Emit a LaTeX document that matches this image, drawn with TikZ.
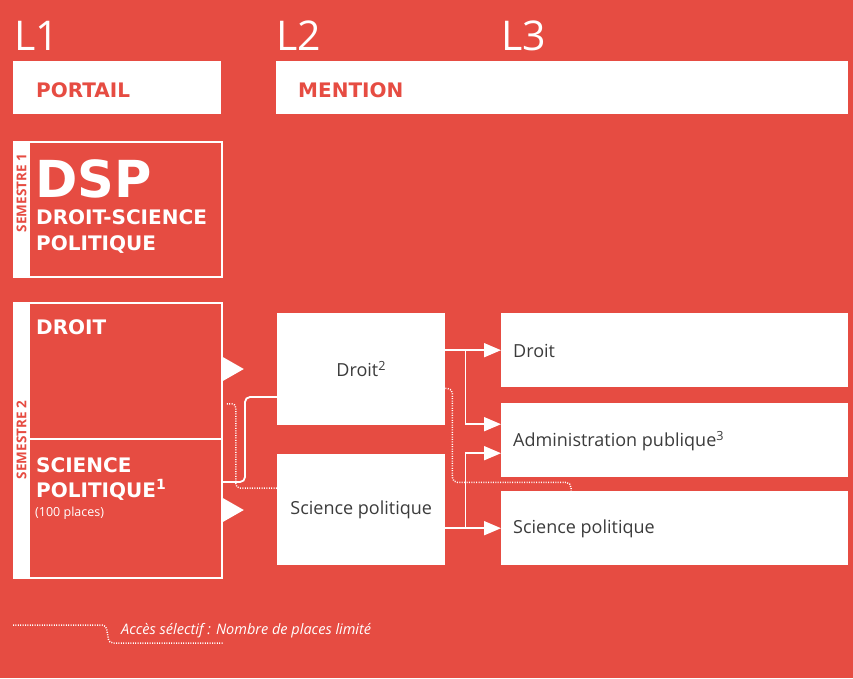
\documentclass[tikz,border=0pt]{standalone}
\usepackage{fontspec}
\setmainfont{Open Sans}
\newfontfamily\hfont{DejaVu Sans}
\usetikzlibrary{arrows.meta,calc}
\definecolor{bgred}{RGB}{230,76,66}
\definecolor{txtgray}{RGB}{60,60,60}
\begin{document}
\begin{tikzpicture}[x=1pt,y=-1pt,
  whitebox/.style={fill=white,draw=none,inner sep=0pt,anchor=north west},
  outlinebox/.style={draw=white,line width=1.8pt,inner sep=0pt,anchor=north west},
  strip/.style={fill=white,draw=white,line width=1.8pt,inner sep=0pt,anchor=north west,minimum width=15pt},
  conn/.style={white,line width=1.8pt},
  arr/.style={conn,-{Triangle[length=17pt,width=14pt]}},
  dots/.style={white,line width=1.5pt,dash pattern=on 1pt off 1.4pt},
  lbl/.style={text=txtgray,font=\fontsize{18}{21}\selectfont},
  year/.style={text=white,inner sep=0pt,anchor=base west,font=\fontsize{41}{41}\selectfont},
  head/.style={text=bgred,inner sep=0pt,anchor=base west,font=\hfont\bfseries\fontsize{20}{20}\selectfont},
  big/.style={text=white,inner sep=0pt,anchor=base west,font=\hfont\bfseries\fontsize{20}{20}\selectfont},
  sem/.style={text=bgred,inner sep=0pt,rotate=90,font=\bfseries\fontsize{13.5}{14}\selectfont},
]
\useasboundingbox[fill=bgred] (0,0) rectangle (853,678);

% years
\node[year] (l1) at (14,50) {L1};
\node[year] (l2) at (276,50) {L2};
\node[year] (l3) at (501,50) {L3};

% header boxes
\node[whitebox,minimum width=208pt,minimum height=53pt] (portail) at (13,61) {};
\node[whitebox,minimum width=572pt,minimum height=53pt] (mention) at (276,61) {};
\node[head] (portailtxt) at (36,97) {PORTAIL};
\node[head] (mentiontxt) at (298,97) {MENTION};

% semestre 1
\node[outlinebox,minimum width=208pt,minimum height=135pt] (s1) at (13,141) {};
\node[strip,minimum height=135pt] (s1strip) at (13,141) {};
\node[sem] (s1txt) at (21.5,193) {SEMESTRE 1};
\node[text=white,inner sep=0pt,anchor=base west,font=\hfont\bfseries\fontsize{51}{51}\selectfont] (dsp) at (35,197) {DSP};
\node[big] (dsp1) at (36,224) {DROIT-SCIENCE};
\node[big] (dsp2) at (36,250) {POLITIQUE};

% semestre 2
\node[outlinebox,minimum width=208pt,minimum height=136pt] (dr1) at (13,302) {};
\node[outlinebox,minimum width=208pt,minimum height=139pt] (sp1) at (13,438) {};
\node[strip,minimum height=275pt] (s2strip) at (13,302) {};
\node[sem] (s2txt) at (21.5,440) {SEMESTRE 2};
\node[big] (dr1txt) at (36,334) {DROIT};
\node[big] (sp1txt) at (36,472) {SCIENCE};
\node[big] (sp1txtb) at (36,497) {POLITIQUE\textsuperscript{1}};
\node[text=white,inner sep=0pt,anchor=base west,font=\fontsize{12.5}{13}\selectfont] (sp1txtc) at (35,516) {(100 places)};

% triangles
\fill[white] ($(dr1.north east)+(0,55)$) -- ++(21,12) -- ++(-21,12) -- cycle;
\fill[white] ($(sp1.north east)+(0,60)$) -- ++(21,12) -- ++(-21,12) -- cycle;

% L2 boxes
\node[whitebox,lbl,minimum width=168pt,minimum height=112pt] (dl2) at (277,313) {Droit\textsuperscript{2}};
\node[whitebox,lbl,minimum width=168pt,minimum height=111pt] (spl2) at (277,454) {Science politique};

% L3 boxes
\node[whitebox,minimum width=347pt,minimum height=74pt] (d3) at (501,313) {};
\node[whitebox,minimum width=347pt,minimum height=74pt] (ap3) at (501,403) {};
\node[whitebox,minimum width=347pt,minimum height=74pt] (sp3) at (501,491) {};
\node[lbl,anchor=west,inner sep=0pt] (d3txt) at ($(d3.west)+(12,1)$) {Droit};
\node[lbl,anchor=west,inner sep=0pt] (ap3txt) at ($(ap3.west)+(12,1)$) {Administration publique\textsuperscript{3}};
\node[lbl,anchor=west,inner sep=0pt] (sp3txt) at ($(sp3.west)+(12,1)$) {Science politique};

% connectors L2 -> L3
\draw[arr] (dl2.east |- d3.west) -- (d3.west);
\draw[arr] ($(dl2.east |- d3.west)+(20,0)$) |- ($(ap3.west)+(0,-16)$);
\draw[arr] (spl2.east |- sp3.west) -- (sp3.west);
\draw[arr] ($(spl2.east |- sp3.west)+(20,0)$) |- ($(ap3.west)+(0,13)$);

% L1 -> L2 solid
\draw[conn,rounded corners=5pt] ($(sp1.north east)+(0,44)$) -| ($(dl2.north west)+(-32,84)$) -- ($(dl2.north west)+(0,84)$);
% dotted selective access
\draw[dots,rounded corners=4pt] ($(dr1.south east)+(4,-36)$) -- ($(dr1.south east)+(13,-36)$) |- ($(spl2.north west)+(0,34)$);
\draw[dots,rounded corners=5pt] ($(dl2.south east)+(0,-37)$) -| ($(dl2.south east)+(7,57)$) -| ($(sp3.north west)+(70,0)$);

% legend
\coordinate (leg1) at (13,625);
\coordinate (leg2) at (223,643);
\draw[dots,rounded corners=4pt] (leg1) -- ($(leg1)+(93,0)$) -- ($(leg2)+(-114,0)$) -- (leg2);
\node[text=white,inner sep=0pt,anchor=west,font=\itshape\fontsize{14.5}{15}\selectfont] (legtxt) at (121,631) {Accès sélectif : Nombre de places limité};
\end{tikzpicture}
\end{document}
